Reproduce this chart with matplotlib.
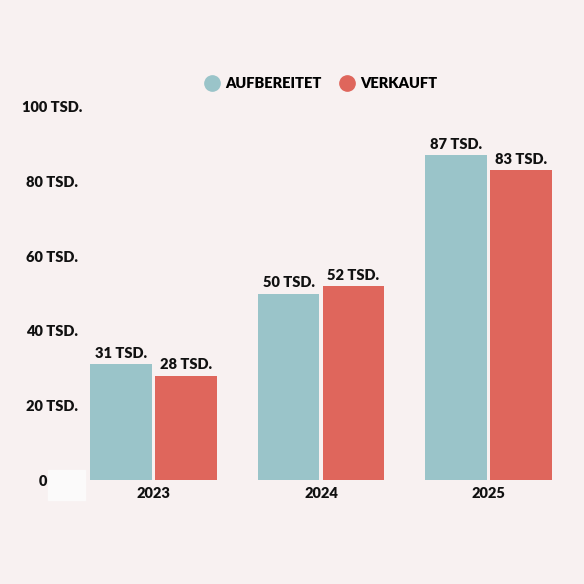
import numpy as np
import matplotlib.pyplot as plt
from matplotlib.lines import Line2D
from matplotlib.patches import Rectangle
from matplotlib.transforms import ScaledTranslation

# Data (thousands)
years = ["2023", "2024", "2025"]
aufbereitet = [31, 50, 87]
verkauft = [28, 52, 83]
y_ticks = [0, 20, 40, 60, 80, 100]
y_labels = ["0", "20 TSD.", "40 TSD.", "60 TSD.", "80 TSD.", "100 TSD."]

bg = "#f8f1f1"
teal = "#9ac4c9"
red = "#df665c"
ink = "#111111"
fw = "heavy"

plt.rcParams["font.family"] = ["Lato", "DejaVu Sans"]

fig = plt.figure(figsize=(5.84, 5.84), dpi=100, facecolor=bg)
ax = fig.add_axes([69.75 / 584, 104 / 584, 502.5 / 584, 373 / 584])
ax.set_facecolor("none")

# faint light patch near the zero label
fig.patches.append(Rectangle((48 / 584, 84 / 584), 37 / 584, 30 / 584,
                             transform=fig.transFigure, color="#fbfafa",
                             zorder=-1))

x = np.arange(len(years))
w = 0.37
off = 0.194
b1 = ax.bar(x - off, aufbereitet, w, color=teal)
b2 = ax.bar(x + off, verkauft, w, color=red)

ax.bar_label(b1, labels=[f"{v} TSD." for v in aufbereitet], padding=3,
             fontsize=10.5, fontweight=fw, color=ink)
ax.bar_label(b2, labels=[f"{v} TSD." for v in verkauft], padding=3,
             fontsize=10.5, fontweight=fw, color=ink)

ax.set_xlim(-0.5, 2.5)
ax.set_ylim(0, 100)
ax.set_xticks(x)
ax.set_xticklabels(years, fontsize=10.5, fontweight=fw, color=ink)
ax.set_yticks(y_ticks)
ax.set_yticklabels(y_labels, fontsize=10.5, fontweight=fw, color=ink,
                   ha="center")
ax.tick_params(axis="y", length=0, pad=13)
ax.tick_params(axis="x", length=0, pad=5)
for s in ax.spines.values():
    s.set_visible(False)

# the zero label sits a bit further left
zero = ax.get_yticklabels()[0]
zero.set_transform(zero.get_transform()
                   + ScaledTranslation(-0.09, 0, fig.dpi_scale_trans))

handles = [
    Line2D([], [], marker="o", linestyle="", markersize=11, color=teal),
    Line2D([], [], marker="o", linestyle="", markersize=11, color=red),
]
fig.legend(handles, ["AUFBEREITET", "VERKAUFT"], loc="center",
           bbox_to_anchor=(321 / 584, 1 - 84 / 584), ncol=2, frameon=False,
           prop={"size": 10.5, "weight": fw}, handletextpad=0.4,
           columnspacing=1.2, handlelength=1.0)

fig.savefig("out.png", dpi=100, facecolor=bg)
